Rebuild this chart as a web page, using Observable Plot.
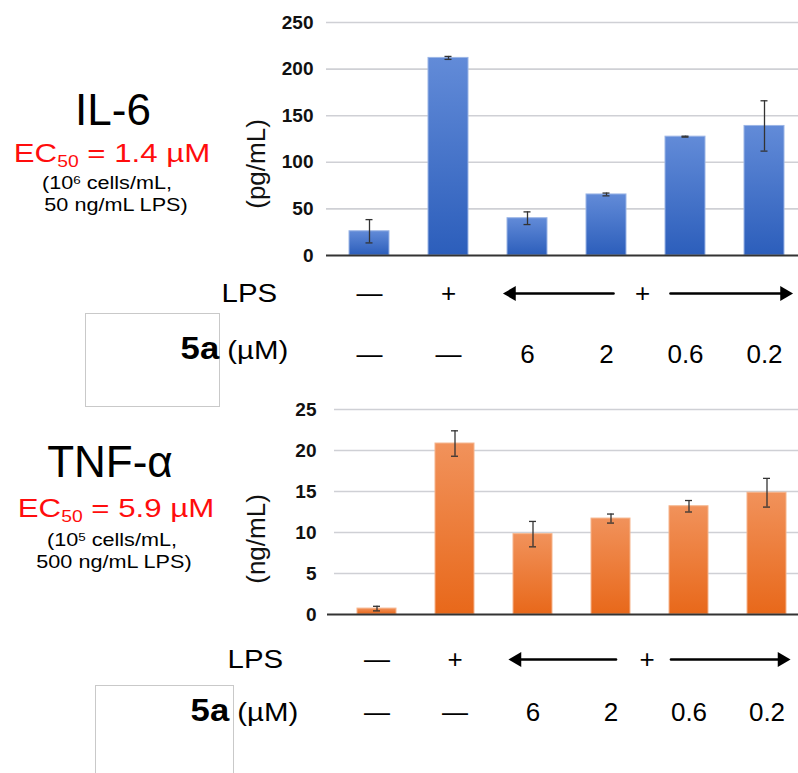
<!DOCTYPE html>
<html><head><meta charset="utf-8">
<script src="https://cdn.jsdelivr.net/npm/d3@7"></script>
<script src="https://cdn.jsdelivr.net/npm/@observablehq/plot@0.6"></script>
<style>
body{margin:0;background:#fff;font-family:"Liberation Sans",Arial,Helvetica,sans-serif;}
#wrap{position:relative;width:798px;height:773px;overflow:hidden;background:#fff;}
.chart{position:absolute;left:0;}
.t{position:absolute;line-height:1;white-space:nowrap;color:#000;}
.c{text-align:center;width:240px;}
.sx{transform:scaleX(1.2);transform-origin:center;}
.rx{transform:scaleX(1.13);transform-origin:right;}
.red{color:#ff0d0d;}
.sub{font-size:0.62em;position:relative;top:0.28em;}
.sup{font-size:0.62em;position:relative;top:-0.45em;}
.big{font-size:1.18em;font-weight:bold;}
.box{position:absolute;border:1px solid #c9c9c9;box-sizing:border-box;}
</style></head><body><div id="wrap"></div>
<script>
const groups = ["ctrl", "lps", "6", "2", "0.6", "0.2"];
const lpsRow = ["—", "+", "", "", "", ""];
const cmpRow = ["—", "—", "6", "2", "0.6", "0.2"];
const il6Values = [26, 212, 40, 65.5, 127.5, 139];
const il6Errors = [12.5, 1.6, 6.8, 1.5, 0.5, 27];
const tnfValues = [0.72, 20.85, 9.8, 11.7, 13.2, 14.85];
const tnfErrors = [0.28, 1.55, 1.55, 0.55, 0.7, 1.75];
const il6Ticks = [0, 50, 100, 150, 200, 250];
const tnfTicks = [0, 5, 10, 15, 20, 25];

const wrap = document.getElementById("wrap");

function makeChart(cfg) {
  const data = groups.map((g, i) => ({g, v: cfg.values[i], e: cfg.errs[i], lps: lpsRow[i], cmp: cmpRow[i]}));
  const txt = {fontSize: 26, fill: "#000"};
  const chart = Plot.plot({
    width: 798, height: cfg.height,
    marginLeft: cfg.marginLeft, marginRight: 0, marginTop: cfg.marginTop, marginBottom: cfg.marginBottom,
    style: {fontFamily: '"Liberation Sans", Arial, sans-serif', color: "#000", background: "transparent", overflow: "visible"},
    x: {type: "band", domain: groups, range: cfg.xRange, paddingInner: 0.5, paddingOuter: 0.25, axis: null},
    y: {domain: [0, cfg.ticks[cfg.ticks.length - 1]], axis: null},
    marks: [
      Plot.gridY(cfg.ticks.slice(1), {stroke: "#cfd0d5", strokeOpacity: 1, strokeWidth: 1.6}),
      Plot.axisY(cfg.ticks, {tickSize: 0, tickPadding: cfg.tickPadding, fontSize: 19, fontWeight: "bold", label: null, fill: "#111"}),
      Plot.text([cfg.label], {text: d => d, frameAnchor: "left", textAnchor: "middle", dx: cfg.labelDx, dy: cfg.labelDy, rotate: -90, fontSize: 26, fill: "#111"}),
      Plot.barY(data, {x: "g", y: "v", fill: `url(#${cfg.gradId})`, stroke: cfg.edge, strokeWidth: 1}),
      Plot.ruleY([0], {stroke: "#333", strokeWidth: 2, insetLeft: cfg.axisInset}),
      Plot.ruleX(data, {x: "g", y1: d => d.v - d.e, y2: d => d.v + d.e, stroke: "#333", strokeWidth: 1.3}),
      Plot.tickY(data, {x: "g", y: d => d.v + d.e, stroke: "#333", strokeWidth: 1.3, inset: cfg.capInset}),
      Plot.tickY(data, {x: "g", y: d => d.v - d.e, stroke: "#333", strokeWidth: 1.3, inset: cfg.capInset}),
      Plot.text(data, {x: "g", text: "lps", frameAnchor: "bottom", dy: cfg.row1, ...txt}),
      Plot.text(data, {x: "g", text: "cmp", frameAnchor: "bottom", dy: cfg.row2, ...txt}),
      Plot.text(["+"], {x: () => "2", text: d => d, frameAnchor: "bottom", dy: cfg.row1, dx: cfg.plusDx, ...txt}),
      Plot.arrow([{a: "2", b: "6"}], {x1: "a", x2: "b", y1: () => 0, y2: () => 0, dy: cfg.arrowDy,
        insetStart: cfg.leftArrow[0], insetEnd: cfg.leftArrow[1], headLength: 0, stroke: "#000", strokeWidth: 2.6}),
      Plot.arrow([{a: "0.6", b: "0.2"}], {x1: "a", x2: "b", y1: () => 0, y2: () => 0, dy: cfg.arrowDy,
        insetStart: cfg.rightArrow[0], insetEnd: cfg.rightArrow[1], headLength: 0, stroke: "#000", strokeWidth: 2.6}),
      Plot.dot([{g: "6"}], {x: "g", y: () => 0, dy: cfg.arrowDy, dx: cfg.leftHead, symbol: "triangle", r: 5.5, fill: "#000", stroke: "none", rotate: -90}),
      Plot.dot([{g: "0.2"}], {x: "g", y: () => 0, dy: cfg.arrowDy, dx: cfg.rightHead, symbol: "triangle", r: 5.5, fill: "#000", stroke: "none", rotate: 90})
    ]
  });
  const svg = d3.select(chart);
  const defs = svg.insert("defs", ":first-child");
  const lg = defs.append("linearGradient").attr("id", cfg.gradId).attr("x1", 0).attr("y1", 0).attr("x2", 0).attr("y2", 1);
  lg.append("stop").attr("offset", 0).attr("stop-color", cfg.colors[0]);
  lg.append("stop").attr("offset", 1).attr("stop-color", cfg.colors[1]);
  chart.classList.add("chart");
  chart.style.top = cfg.top + "px";
  return chart;
}

wrap.appendChild(makeChart({
  values: il6Values, errs: il6Errors, ticks: il6Ticks, label: "(pg/mL)",
  top: 0, height: 385, marginTop: 22, marginBottom: 130, marginLeft: 326, xRange: [327, 805],
  tickPadding: 13, labelDx: -70, labelDy: 25, axisInset: 0, capInset: 16.5,
  row1: 46, row2: 107, arrowDy: 38, plusDx: 36, leftArrow: [-7, -20], rightArrow: [-15, -22], leftHead: -16, rightHead: 20,
  gradId: "gBlue", colors: ["#628bd8", "#2c5ebb"], edge: "#9bb5e6"
}));
wrap.appendChild(makeChart({
  values: tnfValues, errs: tnfErrors, ticks: tnfTicks, label: "(ng/mL)",
  top: 385, height: 388, marginTop: 24, marginBottom: 159, marginLeft: 334, xRange: [337, 806],
  tickPadding: 18, labelDx: -78, labelDy: 27, axisInset: -7, capInset: 16,
  row1: 53, row2: 106, arrowDy: 45, plusDx: 36, leftArrow: [-5, -20], rightArrow: [-18, -17], leftHead: -16, rightHead: 15,
  gradId: "gOrange", colors: ["#f1925b", "#e8681a"], edge: "#f5b48c"
}));

const html = `
<div class="box" style="left:85px;top:313px;width:135px;height:94px;"></div>
<div class="box" style="left:95px;top:685px;width:139px;height:100px;"></div>
<div class="t c" style="left:-7px;top:88px;font-size:44px;">IL-6</div>
<div class="t c red sx" style="left:-8px;top:140px;font-size:26px;">EC<span class="sub">50</span> = 1.4 µM</div>
<div class="t c sx" style="left:-13px;top:174px;font-size:18px;">(10<span class="sup">6</span> cells/mL,</div>
<div class="t c sx" style="left:-4px;top:196px;font-size:18px;">50 ng/mL LPS)</div>
<div class="t c" style="left:-10px;top:440px;font-size:44px;">TNF-α</div>
<div class="t c red sx" style="left:-4px;top:495px;font-size:26px;">EC<span class="sub">50</span> = 5.9 µM</div>
<div class="t c sx" style="left:-8px;top:531px;font-size:18px;">(10<span class="sup">5</span> cells/mL,</div>
<div class="t c sx" style="left:-6px;top:553px;font-size:18px;">500 ng/mL LPS)</div>
<div class="t rx" style="right:${798-277}px;top:280px;font-size:26px;">LPS</div>
<div class="t rx" style="right:${798-288}px;top:334px;font-size:26px;"><span class="big">5a</span> (µM)</div>
<div class="t rx" style="right:${798-283}px;top:646px;font-size:26px;">LPS</div>
<div class="t rx" style="right:${798-298}px;top:696px;font-size:26px;"><span class="big">5a</span> (µM)</div>
`;
wrap.insertAdjacentHTML("beforeend", html);
</script>
</body></html>
